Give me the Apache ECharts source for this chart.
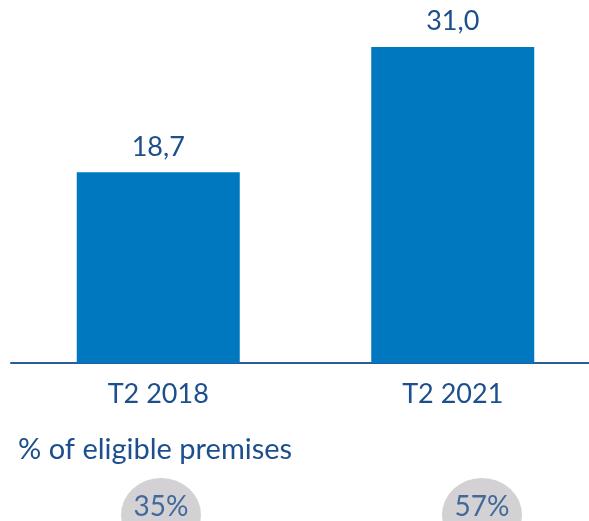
<!DOCTYPE html>
<html><head><meta charset="utf-8">
<script src="https://cdn.jsdelivr.net/npm/echarts@6/dist/echarts.min.js"></script>
<style>html,body{margin:0;padding:0;background:#fff;overflow:hidden}#c{width:650px;height:570px}</style>
</head><body><div id="c"></div>
<script>
const categories = ['T2 2018', 'T2 2021'];
const values = [18.7, 31.0];
const shares = ['35%', '57%'];
const shareTitle = '% of eligible premises';

const FONT = 'Lato';
const NAVY = '#1d4f8c';
const chart = echarts.init(document.getElementById('c'), null, {renderer: 'canvas'});
chart.setOption({
  animation: false,
  title: {text: shareTitle, left: 13, top: 430,
    textStyle: {fontFamily: FONT, fontSize: 29, fontWeight: 'normal', color: NAVY}},
  grid: [
    {left: 11, width: 589, top: 0, height: 363},
    {left: 0.5, width: 642, top: 480, height: 70}
  ],
  xAxis: [
    {type: 'category', gridIndex: 0, data: categories,
     axisLine: {lineStyle: {color: '#2a5d97', width: 2}},
     axisTick: {show: false},
     axisLabel: {fontFamily: FONT, fontSize: 27, color: NAVY, margin: 18}},
    {type: 'category', gridIndex: 1, data: categories, show: false}
  ],
  yAxis: [
    {type: 'value', gridIndex: 0, min: 0, max: 35.6, show: false},
    {type: 'value', gridIndex: 1, min: 0, max: 1, show: false}
  ],
  series: [
    {type: 'bar', xAxisIndex: 0, yAxisIndex: 0, data: values, barWidth: 163,
     itemStyle: {color: '#0078bf'},
     label: {show: true, position: 'top', distance: 12,
       formatter: p => p.value.toFixed(1).replace('.', ','),
       fontFamily: FONT, fontSize: 27, color: NAVY}},
    {type: 'scatter', xAxisIndex: 1, yAxisIndex: 1,
     data: shares.map((s, i) => ({value: [categories[i], 0.5], name: s})),
     symbol: 'circle', symbolSize: [80, 74],
     itemStyle: {color: '#c8c6c8'},
     label: {show: true, position: 'inside', formatter: p => p.name,
       fontFamily: FONT, fontSize: 28, color: NAVY, offset: [0, -8]}}
  ]
});
</script></body></html>
